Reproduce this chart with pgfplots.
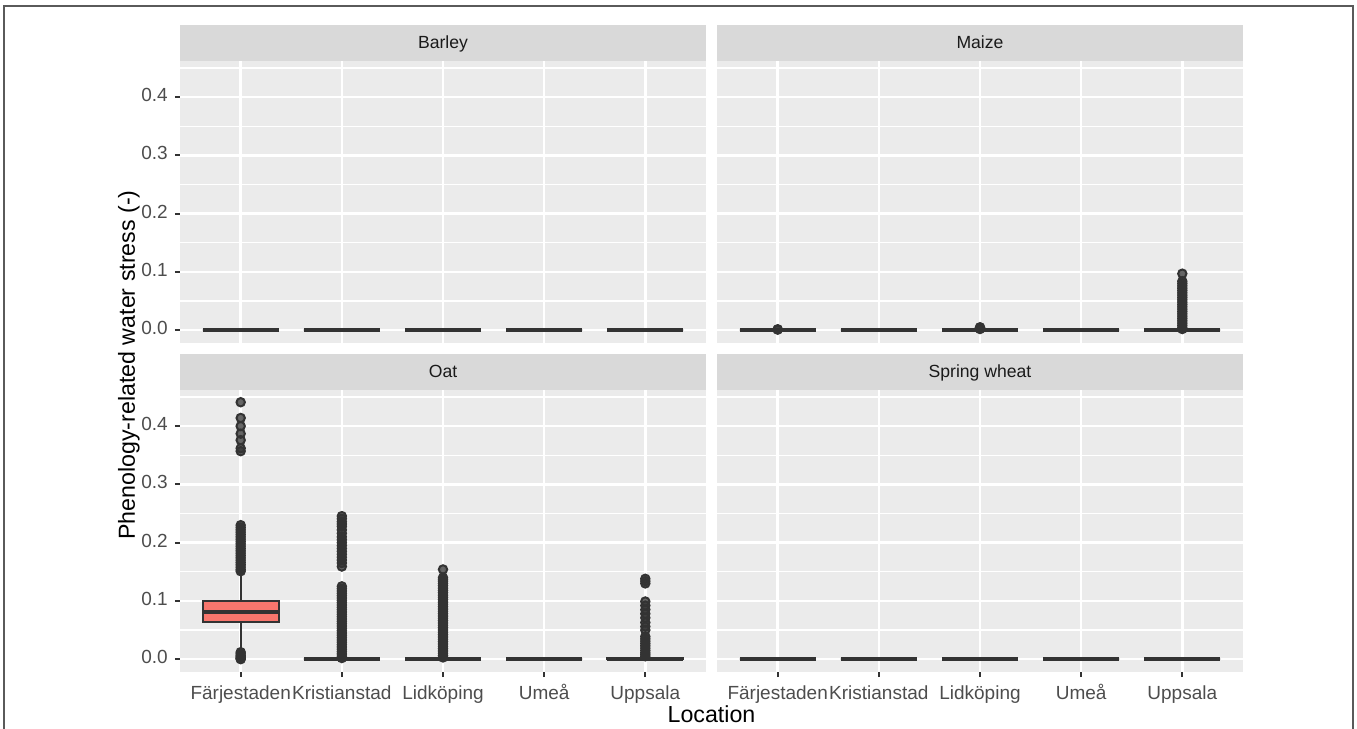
\documentclass[border=0pt]{standalone}
\usepackage{fontspec}
\setmainfont{Liberation Sans}
\usepackage{pgfplots}
\pgfplotsset{compat=1.18}
\usepgfplotslibrary{statistics}
\definecolor{panelbg}{HTML}{EBEBEB}
\definecolor{stripbg}{HTML}{D9D9D9}
\definecolor{boxc}{HTML}{333333}
\definecolor{fillc}{HTML}{F8766D}
\definecolor{labc}{HTML}{4D4D4D}
\definecolor{stripc}{HTML}{1A1A1A}
\definecolor{framec}{HTML}{5A5A5A}
\pgfplotsset{
  panel/.style={
    scale only axis, width=263pt, height=141pt,
    xmin=0.4, xmax=5.6, ymin=-0.022, ymax=0.462,
    axis line style={draw=none},
    axis background/.style={fill=panelbg},
    xtick={1,2,3,4,5}, ytick={0,0.1,0.2,0.3,0.4},
    minor ytick={0.05,0.15,0.25,0.35,0.45},
    xmajorgrids, ymajorgrids, yminorgrids,
    major grid style={white, line width=1.2pt},
    minor grid style={white, line width=0.6pt},
    tick pos=left,
    tick align=outside, major tick length=2.6pt, minor tick length=0pt,
    tick style={color=boxc, line width=1pt},
    ticklabel style={font=\fontsize{9.5}{11}\selectfont, text=labc},
    typeset ticklabels with strut,
    yticklabels={0.0,0.1,0.2,0.3,0.4},
    xticklabels={Färjestaden,Kristianstad,Lidköping,Umeå,Uppsala},
    anchor=north west,
    boxplot/draw direction=y,
    boxplot/box extend=0.75, boxplot/whisker extend=0,
    boxplot/every median/.style={line width=2pt},
    boxplot/every whisker/.style={line width=1pt},
  },
  bstyle/.style={draw=boxc, line width=1pt, fill=fillc, solid, mark=*, mark size=2.1pt,
    mark options={draw=none, fill=boxc, fill opacity=0.75}},
}
\newcommand{\zbox}[1]{\addplot[bstyle, boxplot prepared={draw position=#1, lower whisker=0, lower quartile=0, median=0, upper quartile=0, upper whisker=0}] coordinates {};}
\begin{document}
\begin{tikzpicture}
\useasboundingbox (0,0) rectangle (678.5pt,364.5pt);
% frame
\draw[framec, line width=1pt] (2.2pt,-2pt) -- (2.2pt,361.5pt) -- (676.6pt,361.5pt) -- (676.6pt,-2pt);
% strips
\fill[stripbg] (90pt,334pt) rectangle (353pt,352pt);
\fill[stripbg] (358.5pt,334pt) rectangle (621.5pt,352pt);
\fill[stripbg] (90pt,169.5pt) rectangle (353pt,187.5pt);
\fill[stripbg] (358.5pt,169.5pt) rectangle (621.5pt,187.5pt);
\node[anchor=base, text=stripc, font=\fontsize{8.8}{10}\selectfont] at (221.5pt,340pt) {Barley};
\node[anchor=base, text=stripc, font=\fontsize{8.8}{10}\selectfont] at (490pt,340pt) {Maize};
\node[anchor=base, text=stripc, font=\fontsize{8.8}{10}\selectfont] at (221.5pt,175.5pt) {Oat};
\node[anchor=base, text=stripc, font=\fontsize{8.8}{10}\selectfont] at (490pt,175.5pt) {Spring wheat};
% Barley
\begin{axis}[panel, at={(90pt,334pt)}, xmajorticks=false]
\zbox{1}\zbox{2}\zbox{3}\zbox{4}\zbox{5}
\end{axis}
% Maize
\begin{axis}[panel, at={(358.5pt,334pt)}, xmajorticks=false, ymajorticks=false]
\addplot[bstyle, boxplot prepared={draw position=1, lower whisker=0, lower quartile=0, median=0, upper quartile=0, upper whisker=0}] table[row sep=\\, y index=0] {data\\ 0.001\\ 0.0015\\};
\zbox{2}
\addplot[bstyle, boxplot prepared={draw position=3, lower whisker=0, lower quartile=0, median=0, upper quartile=0, upper whisker=0}] table[row sep=\\, y index=0] {data\\ 0.002\\ 0.004\\ 0.005\\};
\zbox{4}
\addplot[bstyle, boxplot prepared={draw position=5, lower whisker=0, lower quartile=0, median=0, upper quartile=0, upper whisker=0}] table[row sep=\\, y index=0] {data\\ 0.097\\ 0.084\\ 0.080\\ 0.076\\ 0.072\\ 0.068\\ 0.064\\ 0.060\\ 0.056\\ 0.052\\ 0.048\\ 0.044\\ 0.040\\ 0.036\\ 0.032\\ 0.028\\ 0.024\\ 0.020\\ 0.016\\ 0.012\\ 0.008\\ 0.004\\ 0.002\\};
\end{axis}
% Oat
\begin{axis}[panel, at={(90pt,169.5pt)}]
\addplot[bstyle, boxplot prepared={draw position=1, lower whisker=0.016, lower quartile=0.064, median=0.081, upper quartile=0.099, upper whisker=0.149}] table[row sep=\\, y index=0] {data\\ 0.441\\ 0.414\\ 0.400\\ 0.387\\ 0.376\\ 0.362\\ 0.357\\ 0.230\\ 0.226\\ 0.222\\ 0.218\\ 0.214\\ 0.210\\ 0.206\\ 0.202\\ 0.198\\ 0.194\\ 0.190\\ 0.186\\ 0.182\\ 0.178\\ 0.174\\ 0.170\\ 0.166\\ 0.162\\ 0.158\\ 0.154\\ 0.151\\ 0.012\\ 0.009\\ 0.006\\ 0.004\\ 0.002\\ 0.001\\ 0.000\\};
\addplot[bstyle, boxplot prepared={draw position=2, lower whisker=0, lower quartile=0, median=0, upper quartile=0, upper whisker=0}] table[row sep=\\, y index=0] {data\\ 0.2455\\ 0.241\\ 0.236\\ 0.232\\ 0.228\\ 0.222\\ 0.216\\ 0.210\\ 0.205\\ 0.200\\ 0.195\\ 0.190\\ 0.185\\ 0.180\\ 0.175\\ 0.170\\ 0.165\\ 0.159\\ 0.125\\ 0.121\\ 0.117\\ 0.113\\ 0.109\\ 0.105\\ 0.101\\ 0.097\\ 0.093\\ 0.089\\ 0.085\\ 0.081\\ 0.077\\ 0.073\\ 0.069\\ 0.065\\ 0.061\\ 0.057\\ 0.053\\ 0.049\\ 0.045\\ 0.041\\ 0.037\\ 0.033\\ 0.029\\ 0.025\\ 0.021\\ 0.017\\ 0.013\\ 0.009\\ 0.005\\ 0.002\\};
\addplot[bstyle, boxplot prepared={draw position=3, lower whisker=0, lower quartile=0, median=0, upper quartile=0, upper whisker=0}] table[row sep=\\, y index=0] {data\\ 0.154\\ 0.140\\ 0.137\\ 0.134\\ 0.130\\ 0.126\\ 0.122\\ 0.118\\ 0.114\\ 0.110\\ 0.106\\ 0.102\\ 0.098\\ 0.094\\ 0.090\\ 0.086\\ 0.082\\ 0.078\\ 0.074\\ 0.070\\ 0.066\\ 0.062\\ 0.058\\ 0.054\\ 0.050\\ 0.046\\ 0.042\\ 0.038\\ 0.034\\ 0.030\\ 0.026\\ 0.022\\ 0.018\\ 0.014\\ 0.010\\ 0.006\\ 0.003\\};
\zbox{4}
\addplot[bstyle, boxplot prepared={draw position=5, lower whisker=0, lower quartile=0, median=0.001, upper quartile=0.002, upper whisker=0.003}] table[row sep=\\, y index=0] {data\\ 0.138\\ 0.134\\ 0.130\\ 0.099\\ 0.092\\ 0.085\\ 0.078\\ 0.071\\ 0.063\\ 0.056\\ 0.050\\ 0.039\\ 0.035\\ 0.031\\ 0.027\\ 0.023\\ 0.019\\ 0.015\\ 0.011\\ 0.008\\ 0.005\\};
\end{axis}
% Spring wheat
\begin{axis}[panel, at={(358.5pt,169.5pt)}, ymajorticks=false]
\zbox{1}\zbox{2}\zbox{3}\zbox{4}\zbox{5}
\end{axis}
% axis titles
\node[anchor=base, font=\fontsize{11.6}{13}\selectfont] at (355.75pt,3pt) {Location};
\node[anchor=base, rotate=90, font=\fontsize{11.6}{13}\selectfont] at (67.5pt,182pt) {Phenology-related water stress (-)};
\end{tikzpicture}
\end{document}
